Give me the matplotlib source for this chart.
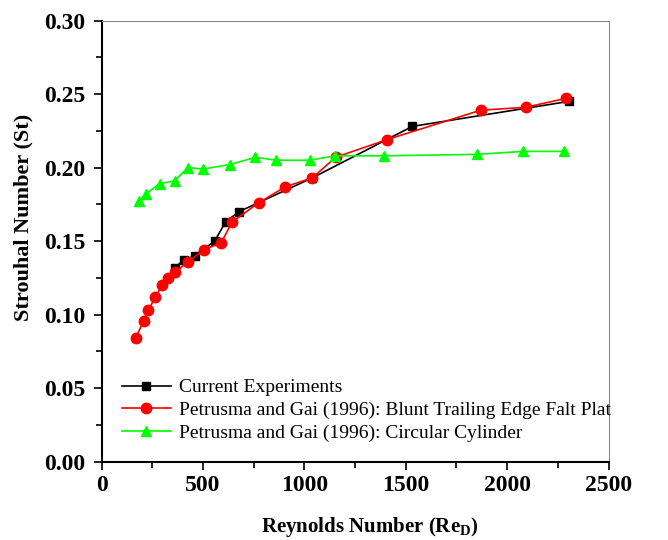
import matplotlib
matplotlib.use("Agg")
import matplotlib.pyplot as plt
from matplotlib.ticker import MultipleLocator, FormatStrFormatter

plt.rcParams['font.family'] = ['Liberation Serif', 'DejaVu Serif']
plt.rcParams['mathtext.fontset'] = 'custom'
plt.rcParams['mathtext.rm'] = 'Liberation Serif:bold'
plt.rcParams['mathtext.bf'] = 'Liberation Serif:bold'

# Current Experiments
exp_re = [360, 404, 458, 557, 611, 677, 1039, 1532, 2304]
exp_st = [0.132, 0.137, 0.140, 0.150, 0.163, 0.170, 0.193, 0.228, 0.245]

# Petrusma and Gai (1996): Blunt Trailing Edge Flat Plate
plate_re = [168, 207, 230, 265, 298, 327, 363, 427, 503, 590, 643, 774, 906,
            1039, 1154, 1407, 1869, 2091, 2288]
plate_st = [0.084, 0.096, 0.103, 0.112, 0.120, 0.125, 0.129, 0.136, 0.144,
            0.149, 0.163, 0.176, 0.187, 0.193, 0.207, 0.219, 0.239, 0.241, 0.247]

# Petrusma and Gai (1996): Circular Cylinder
cyl_re = [184, 217, 286, 360, 426, 500, 631, 758, 861, 1029, 1149, 1392, 1853,
          2078, 2278]
cyl_st = [0.177, 0.182, 0.189, 0.191, 0.200, 0.199, 0.202, 0.207, 0.205, 0.205,
          0.208, 0.208, 0.209, 0.211, 0.211]

labels = ["Current Experiments",
          "Petrusma and Gai (1996): Blunt Trailing Edge Falt Plat",
          "Petrusma and Gai (1996): Circular Cylinder"]

fig = plt.figure(figsize=(6.68, 5.40), dpi=100)
ax = fig.add_axes([0.1522, 0.145, 0.7588, 0.817])

ax.plot(exp_re, exp_st, color='black', marker='s', markersize=5.5, lw=1.2,
        label=labels[0])
ax.plot(plate_re, plate_st, color='#ff0000', marker='o', markersize=7.5, lw=1.2,
        label=labels[1])
ax.plot(cyl_re, cyl_st, color='#00ff00', marker='^', markersize=7.5, lw=1.2,
        label=labels[2])

ax.set_xlim(0, 2500)
ax.set_ylim(0.0, 0.30)
ax.xaxis.set_major_locator(MultipleLocator(500))
ax.xaxis.set_minor_locator(MultipleLocator(250))
ax.yaxis.set_major_locator(MultipleLocator(0.05))
ax.yaxis.set_minor_locator(MultipleLocator(0.025))
ax.yaxis.set_major_formatter(FormatStrFormatter('%.2f'))

ax.tick_params(which='both', direction='out', top=False, right=False, width=1.2)
ax.tick_params(which='major', length=6, labelsize=17)
ax.tick_params(axis='y', which='major', pad=6)
ax.tick_params(which='minor', length=4)
for lab in ax.get_xticklabels() + ax.get_yticklabels():
    lab.set_fontweight('bold')

for s in ['left', 'bottom']:
    ax.spines[s].set_linewidth(1.5)
    ax.spines[s].set_color('black')
for s in ['top', 'right']:
    ax.spines[s].set_linewidth(0.8)
    ax.spines[s].set_color('#888888')

ax.set_xlabel('Reynolds Number (Re$_{\\mathrm{D}}$)', fontsize=15,
              fontweight='bold')
ax.xaxis.set_label_coords(0.529, -0.12)
ax.set_ylabel('Strouhal Number (St)', fontsize=16, fontweight='bold')
ax.yaxis.set_label_coords(-0.135, 0.553)

leg = ax.legend(loc='lower left', bbox_to_anchor=(0.025, 0.028), frameon=False,
                fontsize=14, handlelength=2.5, handletextpad=0.45,
                labelspacing=0.25, borderaxespad=0.0)

fig.savefig('out.png', dpi=100)
